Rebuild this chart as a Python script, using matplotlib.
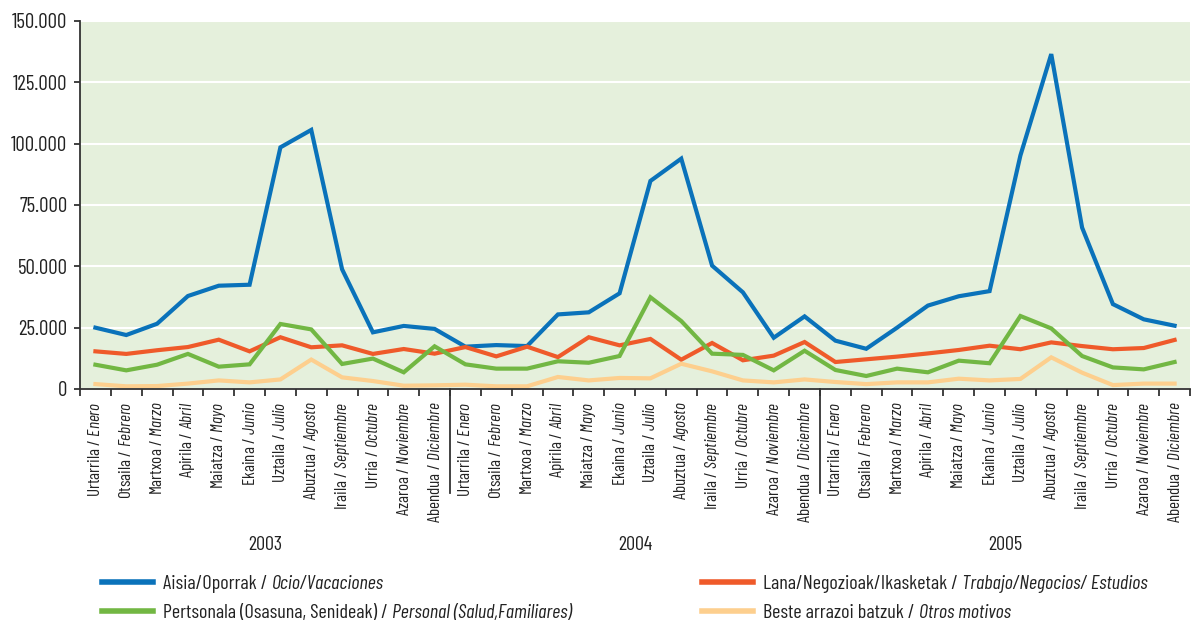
import matplotlib
matplotlib.use("Agg")
import matplotlib.pyplot as plt
from matplotlib import font_manager
from matplotlib.lines import Line2D
from matplotlib.ticker import FuncFormatter, FixedLocator

# narrow font, with fallbacks
names = {f.name for f in font_manager.fontManager.ttflist}
fam = "DejaVu Sans"
for cand in ["Barlow Condensed", "Archivo Narrow", "Roboto Condensed", "Liberation Sans Narrow"]:
    if cand in names:
        fam = cand
        break
plt.rcParams["font.family"] = [fam, "DejaVu Sans"]
if fam == "DejaVu Sans":
    plt.rcParams["font.stretch"] = "condensed"
plt.rcParams["mathtext.fontset"] = "custom"
plt.rcParams["mathtext.rm"] = fam
plt.rcParams["mathtext.it"] = fam + ":italic"

years = ["2003", "2004", "2005"]
months_eu = ["Urtarrila", "Otsaila", "Martxoa", "Apirila", "Maiatza", "Ekaina",
             "Uztaila", "Abuztua", "Iraila", "Urria", "Azaroa", "Abendua"]
months_es = ["Enero", "Febrero", "Marzo", "Abril", "Mayo", "Junio",
             "Julio", "Agosto", "Septiembre", "Octubre", "Noviembre", "Diciembre"]

ocio = [25000, 22000, 26600, 37900, 42100, 42500, 98500, 105600, 48800, 23100, 25700, 24500,
        17250, 17900, 17500, 30400, 31250, 39000, 84800, 93900, 50300, 39400, 20900, 29600,
        19700, 16400, 25000, 34000, 37800, 39900, 95200, 136500, 65800, 34600, 28400, 25800]
trabajo = [15350, 14300, 15800, 17100, 20100, 15350, 21100, 17000, 17800, 14300, 16300, 14400,
           17100, 13300, 17250, 13000, 21100, 17800, 20400, 11950, 18750, 11700, 13600, 19150,
           11000, 12100, 13200, 14500, 15900, 17650, 16200, 19000, 17500, 16200, 16700, 20000]
personal = [9900, 7600, 9900, 14300, 9100, 10050, 26500, 24300, 10200, 12400, 6800, 17400,
            10050, 8300, 8300, 11300, 10700, 13450, 37400, 27700, 14400, 13900, 7600, 15600,
            7750, 5300, 8300, 6800, 11550, 10500, 29750, 24700, 13450, 8800, 8000, 11000]
otros = [2000, 1100, 1200, 2200, 3500, 2700, 3900, 12000, 4750, 3250, 1350, 1500,
         1750, 1100, 1100, 4900, 3500, 4500, 4350, 10300, 7200, 3500, 2700, 3900,
         2850, 2000, 2700, 2700, 4200, 3500, 4100, 12900, 6650, 1600, 2200, 2200]

# legend text: (basque part, spanish part in italics)
series_eu = ["Aisia/Oporrak / ", "Lana/Negozioak/Ikasketak / ",
             "Pertsonala (Osasuna, Senideak) / ", "Beste arrazoi batzuk / "]
series_es = ["Ocio/Vacaciones", "Trabajo/Negocios/ Estudios",
             "Personal (Salud,Familiares)", "Otros motivos"]
colors = ["#0a72ba", "#ef5a2a", "#72b743", "#fdcf8e"]

labels = []
for y in years:
    for eu, es in zip(months_eu, months_es):
        labels.append(eu + r" / $\mathit{" + es + "}$")

W, H = 1195, 623
fig = plt.figure(figsize=(W / 100, H / 100), dpi=100)
ax = fig.add_axes([80 / W, (H - 389) / H, 1110 / W, 368 / H])
ax.set_facecolor("#e5f0dc")

x = list(range(len(ocio)))
for vals, c in zip([ocio, trabajo, personal, otros], colors):
    ax.plot(x, vals, color=c, lw=3, solid_joinstyle="miter", clip_on=False)

ax.set_xlim(-0.5, 35.5)
ax.set_ylim(0, 150000)
ax.set_yticks(range(0, 150001, 25000))
ax.yaxis.set_major_formatter(FuncFormatter(lambda v, p: f"{int(v):,}".replace(",", ".")))
ax.grid(axis="y", color="white", lw=1.5)
ax.set_axisbelow(True)

for s in ["top", "right"]:
    ax.spines[s].set_visible(False)
for s in ["left", "bottom"]:
    ax.spines[s].set_color("#333333")
    ax.spines[s].set_linewidth(1.3)

ax.tick_params(axis="y", labelsize=15, length=4, width=1.3, color="#333333", pad=5,
               labelcolor="#222222")
ax.set_xticks(x)
ax.set_xticklabels(labels, rotation=90, fontsize=12.3, va="top", ha="center", color="#222222")
ax.tick_params(axis="x", which="major", length=0, pad=9)
ax.xaxis.set_minor_locator(FixedLocator([i - 0.5 for i in range(37)]))
ax.tick_params(axis="x", which="minor", length=5, width=1.3, color="#333333")

# year separators
for b in [11.5, 23.5]:
    ax.plot([b, b], [0, -(493 - 389) / 368], transform=ax.get_xaxis_transform(),
            color="#333333", lw=1.3, clip_on=False)

for i, yr in enumerate(years):
    ax.text(5.5 + 12 * i, -(545 - 389) / 368, yr, transform=ax.get_xaxis_transform(),
            ha="center", va="center", fontsize=14.5, color="#222222")

# legend, two columns, regular + italic part
r = fig.canvas.get_renderer()
leg_pos = [(102, 582), (702, 582), (102, 611), (702, 611)]
for (lx, ly), eu, es, c in zip(leg_pos, series_eu, series_es, colors):
    fig.add_artist(Line2D([lx / W, (lx + 51) / W], [1 - ly / H, 1 - ly / H],
                          color=c, lw=4, transform=fig.transFigure))
    t1 = fig.text((lx + 61) / W, 1 - ly / H, eu, ha="left", va="center_baseline",
                  fontsize=14.5, color="#222222")
    bb = t1.get_window_extent(r)
    fig.text(bb.x1 / W, 1 - ly / H, es, ha="left", va="center_baseline",
             fontsize=14.5, style="italic", color="#222222")

fig.savefig("out.png", dpi=100)
